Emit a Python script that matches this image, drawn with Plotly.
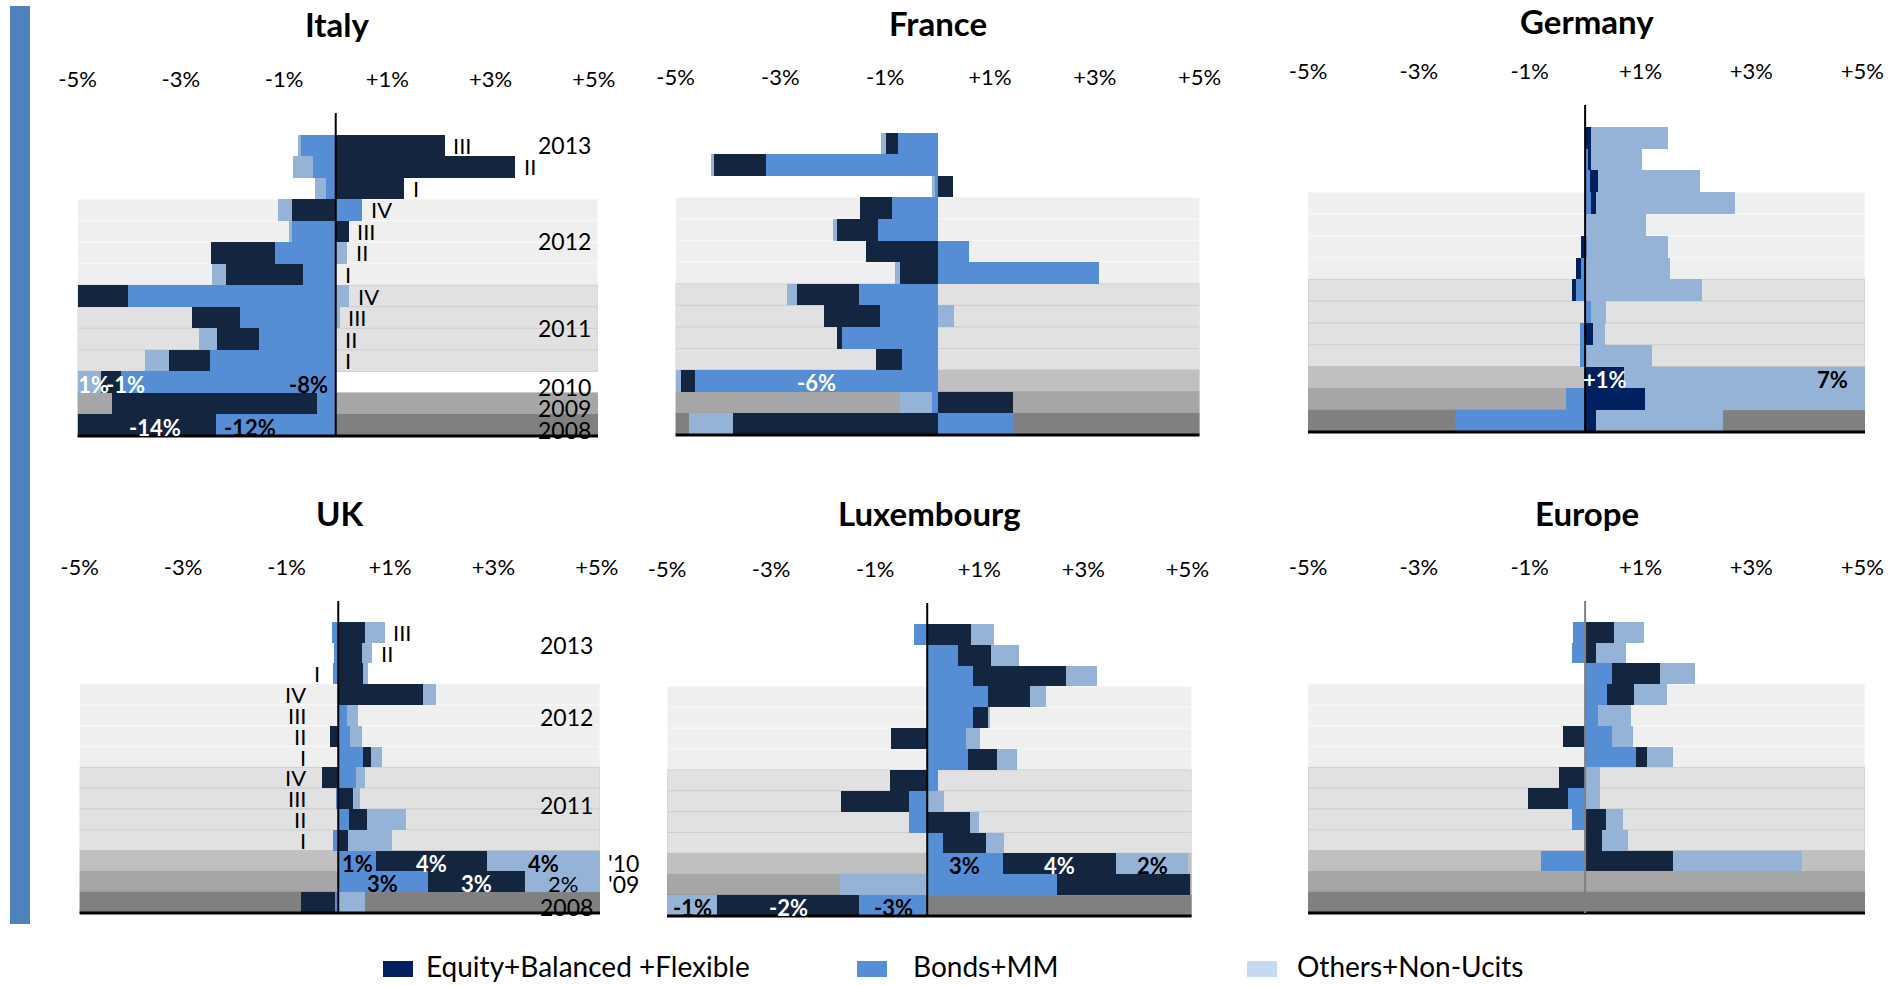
import plotly.graph_objects as go

# quarterly rows, top to bottom
ROWS = ["2013 III", "2013 II", "2013 I", "2012 IV", "2012 III", "2012 II", "2012 I",
        "2011 IV", "2011 III", "2011 II", "2011 I", "2010", "2009", "2008"]
PANELS = ["Italy", "France", "Germany", "UK", "Luxembourg", "Europe"]
SERIES = ["Bonds+MM", "Equity+Balanced +Flexible", "Others+Non-Ucits"]

# net flows, % of assets (annual rows are drawn compressed, as in the original)
italy_equity = [2.10, 3.47, 1.32, -0.86, 0.24, -1.24, -1.48, -0.96, -0.93, -0.81, -0.78, -0.38, -3.97, -2.67]
italy_bonds = [-0.68, -0.45, -0.20, 0.51, -0.85, -1.19, -0.65, -4.04, -1.86, -1.49, -2.45, -4.17, -0.37, -2.33]
italy_others = [-0.06, -0.39, -0.21, -0.26, -0.07, 0.22, -0.27, 0.25, 0.07, -0.35, -0.48, -0.45, 0, 0]

france_equity = [-0.23, -1.00, 0.28, -0.60, -0.78, -1.37, -0.72, -1.20, -1.07, -0.10, -0.50, -0.27, 1.43, -3.91]
france_bonds = [-0.76, -3.28, -0.05, -0.88, -1.15, 0.60, 3.07, -1.50, -1.11, -1.83, -0.68, -4.64, -0.12, 1.43]
france_others = [-0.09, -0.05, -0.07, 0, -0.08, 0, -0.10, -0.19, 0.30, 0, 0, -0.09, -0.60, -0.85]

germany_equity = [0.11, 0.05, 0.15, 0.10, 0, -0.07, -0.09, -0.07, 0, 0.15, 0, 0.70, 1.08, 0.20]
germany_bonds = [0, 0.06, 0.08, 0.10, 0.02, 0.04, -0.07, -0.16, 0.11, -0.10, -0.10, 0, -0.35, -2.34]
germany_others = [1.39, 0.91, 1.84, 2.50, 1.07, 1.45, 1.53, 2.10, 0.26, 0.20, 1.21, 4.40, 4.00, 2.28]

uk_equity = [0.51, 0.45, 0.47, 1.63, 0, -0.16, 0.16, -0.33, 0.27, 0.35, 0.18, 2.13, 1.88, -0.64]
uk_bonds = [-0.12, -0.09, -0.11, 0, 0.16, 0.22, 0.47, 0.34, -0.05, 0.20, -0.11, 0.73, 1.73, -0.08]
uk_others = [0.38, 0.20, 0.09, 0.26, 0.21, 0.24, 0.20, 0.17, 0.14, 0.75, 0.86, 2.30, 1.45, 0.51]

lux_equity = [0.84, 0.63, 1.79, 0.81, 0.29, -0.69, 0.55, -0.71, -1.30, 0.83, 0.83, 2.17, 2.55, -2.72]
lux_bonds = [-0.26, 0.60, 0.88, 1.17, 0.87, 0.74, 0.79, 0.21, -0.35, -0.35, 0.30, 1.45, 2.49, -1.31]
lux_others = [0.44, 0.54, 0.60, 0.31, 0.05, 0.28, 0.39, 0, 0.32, 0.17, 0.35, 1.40, -1.67, -0.97]

europe_equity = [0.53, 0.20, 0.88, 0.49, 0, -0.40, 0.20, -0.48, -0.72, 0.38, 0.31, 1.59, 0, 0]
europe_bonds = [-0.22, -0.23, 0.48, 0.39, 0.24, 0.48, 0.91, 0, -0.31, -0.23, 0, -0.80, 0, 0]
europe_others = [0.53, 0.53, 0.62, 0.59, 0.59, 0.39, 0.48, 0.27, 0.26, 0.31, 0.47, 2.33, 0, 0]

DATA = {
    "Italy": (italy_bonds, italy_equity, italy_others),
    "France": (france_bonds, france_equity, france_others),
    "Germany": (germany_bonds, germany_equity, germany_others),
    "UK": (uk_bonds, uk_equity, uk_others),
    "Luxembourg": (lux_bonds, lux_equity, lux_others),
    "Europe": (europe_bonds, europe_equity, europe_others),
}

# value labels on the annual rows: (row, series index 0=bonds 1=equity 2=others, text)
VALUE_LABELS = {
    "Italy": [(11, 2, "-1%"), (11, 1, "-1%"), (11, 0, "-8%"), (13, 1, "-14%"), (13, 0, "-12%")],
    "France": [(11, 0, "-6%")],
    "Germany": [(11, 1, "+1%"), (11, 2, "7%")],
    "UK": [(11, 0, "1%"), (11, 1, "4%"), (11, 2, "4%"), (12, 0, "3%"), (12, 1, "3%"), (12, 2, "2%")],
    "Luxembourg": [(11, 0, "3%"), (11, 1, "4%"), (11, 2, "2%"), (13, 2, "-1%"), (13, 1, "-2%"), (13, 0, "-3%")],
    "Europe": [],
}
YEAR_LABELS = {
    "Italy": ["2013", "2012", "2011", "2010", "2009", "2008"],
    "UK": ["2013", "2012", "2011", "'10", "'09", "2008"],
}
TICKS = [-5, -3, -1, 1, 3, 5]
TICK_TEXT = ["-5%", "-3%", "-1%", "+1%", "+3%", "+5%"]
LEGEND = ["Equity+Balanced +Flexible", "Bonds+MM", "Others+Non-Ucits"]

# ---- styling ----
W, H = 1899, 986
FONT = "Lato"
C_BONDS = "#558ed5"
C_OTHERS = "#95b3d7"
C_EQUITY = {"Germany": "#002060"}
C_EQUITY_DEF = "#13253f"
LEGEND_COLORS = ["#002060", "#558ed5", "#c6d9f1"]

GEOM = {  # pixel boxes of the plot areas
    "Italy": dict(x0=77.6, x1=598, top=113, bottom=436, xmax=5.08, ty=24, zero="black"),
    "France": dict(x0=675.6, x1=1199.5, top=111, bottom=435, xmax=5.0, ty=23, zero=None),
    "Germany": dict(x0=1308, x1=1865, top=105, bottom=432, xmax=5.05, ty=21, zero="black"),
    "UK": dict(x0=79.6, x1=600, top=601, bottom=913, xmax=5.06, ty=513, zero="black"),
    "Luxembourg": dict(x0=667, x1=1191.6, top=603, bottom=916, xmax=5.08, ty=513, zero="black"),
    "Europe": dict(x0=1308, x1=1865, top=601, bottom=913, xmax=5.05, ty=513, zero="#808080"),
}
BAND = {3: "#efefef", 4: "#efefef", 5: "#efefef", 6: "#efefef",
        7: "#e1e1e1", 8: "#e1e1e1", 9: "#e1e1e1", 10: "#e1e1e1",
        11: "#c0c0c0", 12: "#a6a6a6", 13: "#808080"}
BAND_LINE = {3: "#f8f8f8", 7: "#cfcfcf"}
LABEL_STYLE = {  # (panel,row,series): (anchor, color, shift)
    ("Italy", 11, 2): ("mid", "white", 0),
    ("Italy", 11, 1): ("mid", "white", 15),
    ("Italy", 11, 0): ("base", "black", -6),
    ("Italy", 13, 1): ("mid", "white", 8),
    ("Italy", 13, 0): ("end", "black", 7),
    ("France", 11, 0): ("mid", "white", 0),
    ("Germany", 11, 2): ("end", "black", -15),
}
YEAR_POS = {"Italy": [13, 8.57, 4.52, 1.78, 0.8, -0.22], "UK": [12.4, 8.9, 4.7, 1.9, 0.9, -0.2]}
ROMAN_SIDE = {"Italy": ["r"] * 11, "UK": ["r", "r", "n"] + ["l"] * 8}


def px(x):
    return x / W


def py(y):
    return 1 - y / H


fig = go.Figure()
shapes = []
annotations = []

for i, name in enumerate(PANELS):
    g = GEOM[name]
    sfx = "" if i == 0 else str(i + 1)
    xr, yr = "x" + sfx, "y" + sfx
    bonds, equity, others = DATA[name]
    vals = [bonds, equity, others]
    ypos = [13 - k for k in range(len(ROWS))]
    colors = [C_BONDS, C_EQUITY.get(name, C_EQUITY_DEF), C_OTHERS]
    for s in range(3):
        fig.add_trace(go.Bar(
            y=ypos, x=vals[s], orientation="h", name=SERIES[s],
            marker=dict(color=colors[s], line=dict(width=0)),
            xaxis=xr, yaxis=yr, showlegend=False, width=1,
            hovertext=ROWS, hoverinfo="text+x"))

    fig.layout["xaxis" + sfx] = dict(
        domain=[px(g["x0"]), px(g["x1"])], anchor=yr, range=[-5, g["xmax"]],
        side="top", tickvals=TICKS, ticktext=TICK_TEXT, showgrid=False,
        zeroline=False, showline=False, ticks="outside", ticklen=16,
        tickcolor="rgba(0,0,0,0)", tickfont=dict(family=FONT, size=22, color="black"),
        automargin=False, fixedrange=True)
    fig.layout["yaxis" + sfx] = dict(
        domain=[py(g["bottom"]), py(g["top"])], anchor=xr, range=[-0.5, 14.5],
        visible=False, automargin=False, fixedrange=True)

    # background bands
    for r, col in BAND.items():
        yc = 13 - r
        x1 = 0 if (name == "Italy" and r == 11) else g["xmax"]
        lc = BAND_LINE.get(3 if r <= 6 else 7, col) if r <= 10 else col
        shapes.append(dict(type="rect", xref=xr, yref=yr, x0=-5, x1=x1,
                           y0=yc - 0.5, y1=yc + 0.5, fillcolor=col,
                           line=dict(color=lc, width=1), layer="below"))
    # bottom axis and zero line
    shapes.append(dict(type="line", xref=xr + " domain", yref=yr + " domain",
                       x0=0, x1=1, y0=0, y1=0, line=dict(color="black", width=3)))
    if g["zero"]:
        shapes.append(dict(type="line", xref=xr, yref=yr + " domain", x0=0, x1=0,
                           y0=0, y1=1, line=dict(color=g["zero"], width=2), layer="above"))

    annotations.append(dict(text="<b>%s</b>" % name, x=(px(g["x0"]) + px(g["x1"])) / 2,
                            y=py(g["ty"]), xref="paper", yref="paper", showarrow=False,
                            font=dict(family=FONT, size=33, color="black"),
                            xanchor="center", yanchor="middle"))

    # stacked segment extents (relative mode: bonds, equity, others)
    segs = []
    for k in range(len(ROWS)):
        pos, neg, row = 0.0, 0.0, []
        for s in range(3):
            v = vals[s][k]
            if v >= 0:
                row.append((pos, pos + v)); pos += v
            else:
                row.append((neg + v, neg)); neg += v
        segs.append((row, pos, neg))

    for (k, s, txt) in VALUE_LABELS[name]:
        anchor, col, shift = LABEL_STYLE.get((name, k, s), ("mid", "white" if s == 1 else "black", 0))
        lo, hi = segs[k][0][s]
        lo, hi = max(lo, -5), min(hi, g["xmax"])
        negative = vals[s][k] < 0
        if anchor == "mid":
            x, xa = (lo + hi) / 2, "center"
        elif anchor == "end":
            x, xa = (lo, "left") if negative else (hi, "right")
        else:
            x, xa = (hi, "right") if negative else (lo, "left")
        bold = not (name == "UK" and k == 12 and s == 2)
        annotations.append(dict(text=("<b>%s</b>" % txt) if bold else txt, x=x, y=13 - k,
                                xref=xr, yref=yr, showarrow=False, xanchor=xa, xshift=shift,
                                yshift=-2, font=dict(family=FONT, size=22, color=col)))

    if name in YEAR_LABELS:
        for lab, yv in zip(YEAR_LABELS[name], YEAR_POS[name]):
            outside = lab.startswith("'")
            annotations.append(dict(text=lab, x=1, y=yv, xref=xr + " domain", yref=yr,
                                    showarrow=False, xanchor="left" if outside else "right",
                                    xshift=6 if outside else -5,
                                    font=dict(family=FONT, size=23, color="black")))
        for k, side in enumerate(ROMAN_SIDE[name]):
            roman = ROWS[k].split(" ")[1]
            row, pos, neg = segs[k]
            if side == "r":
                x, xa, sh = pos, "left", 7
            elif side == "n":
                x, xa, sh = neg, "right", -11
            else:
                x, xa, sh = 0, "right", -30
            annotations.append(dict(text=roman, x=x, y=13 - k, xref=xr, yref=yr,
                                    showarrow=False, xanchor=xa, xshift=sh,
                                    font=dict(family=FONT, size=22, color="black")))

# left accent bar
shapes.append(dict(type="rect", xref="paper", yref="paper", x0=px(10), x1=px(30),
                   y0=py(924), y1=py(6), fillcolor="#4f81bd", line=dict(width=0)))

# legend drawn by hand
leg_sw = [383, 857, 1247]
leg_tx = [424, 911, 1295]
for lab, col, sx, tx in zip(LEGEND, LEGEND_COLORS, leg_sw, leg_tx):
    shapes.append(dict(type="rect", xref="paper", yref="paper", x0=px(sx), x1=px(sx + 30),
                       y0=py(977), y1=py(961), fillcolor=col, line=dict(width=0)))
    annotations.append(dict(text=lab, x=px(tx), y=py(966), xref="paper", yref="paper",
                            showarrow=False, xanchor="left", yanchor="middle",
                            font=dict(family=FONT, size=28, color="black")))

fig.update_layout(
    width=W, height=H, margin=dict(l=0, r=0, t=0, b=0, pad=0, autoexpand=False),
    barmode="relative", bargap=0, plot_bgcolor="rgba(0,0,0,0)", paper_bgcolor="white",
    shapes=shapes, annotations=annotations, showlegend=False,
    font=dict(family=FONT, color="black"))

fig.write_html("out.html", config={"displayModeBar": False, "responsive": False},
               post_script="document.body.style.margin='0px';")
